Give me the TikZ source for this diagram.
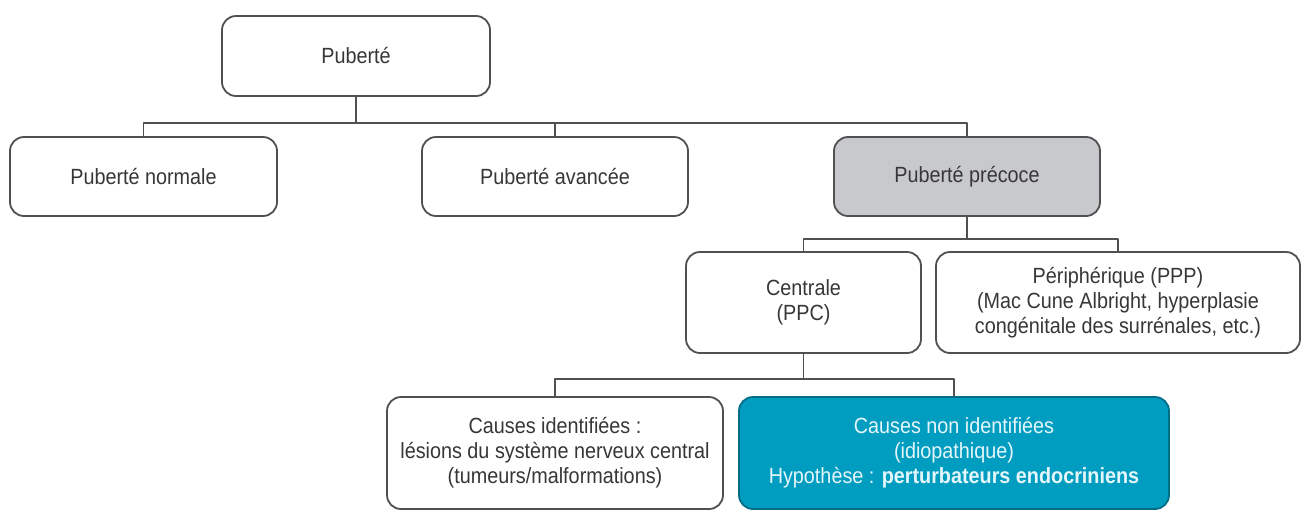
\documentclass[tikz,border=0pt]{standalone}
\usepackage{fontspec}
\setmainfont{Liberation Sans}[FakeStretch=0.9]
\definecolor{txt}{RGB}{55,55,55}
\definecolor{edge}{RGB}{80,80,80}
\definecolor{greyfill}{RGB}{200,201,204}
\definecolor{teal}{RGB}{0,157,192}
\definecolor{pale}{RGB}{228,246,250}
\begin{document}
\begin{tikzpicture}[x=1pt, y=-1pt, line join=round, line cap=round,
		box/.style={draw=edge, line width=1.8pt, rounded corners=14pt, fill=white, text=txt,
			align=center, inner sep=0pt, font=\fontsize{22}{25}\selectfont},
		greybox/.style={box, fill=greyfill},
		tealbox/.style={box, draw=teal!70!black, fill=teal, text=pale},
		link/.style={draw=edge, line width=1.8pt}]
	\useasboundingbox (0,0) rectangle (1301,512);
	% first level
	\node[box, minimum width=268pt, minimum height=80pt] (pub) at (356,56) {Puberté};
	\node[box, minimum width=267pt, minimum height=79pt] (norm) at (143.5,176.5) {Puberté normale};
	\node[box, minimum width=266pt, minimum height=79pt] (avan) at (555,176.5) {Puberté avancée};
	\node[greybox, minimum width=266pt, minimum height=79pt] (prec) at (967,176.5) {Puberté précoce};
	% second level
	\node[box, minimum width=235pt, minimum height=101pt] (cent) at (803.5,302.5) {Centrale\\(PPC)};
	\node[box, minimum width=364pt, minimum height=101pt] (peri) at (1118,302.5)
		{Périphérique (PPP)\\(Mac Cune Albright, hyperplasie\\congénitale des surrénales, etc.)};
	% third level
	\node[box, minimum width=336pt, minimum height=112pt] (cid) at (555,453)
		{Causes identifiées :\\lésions du système nerveux central\\(tumeurs/malformations)};
	\node[tealbox, minimum width=430pt, minimum height=112pt] (cnid) at (954,453)
		{Causes non identifiées\\(idiopathique)\\Hypothèse : \textbf{perturbateurs endocriniens}};
	% connectors
	\path (pub.south) ++(0,26) coordinate (b1);
	\path (prec.south) ++(0,22) coordinate (b2);
	\path (cent.south) ++(0,25) coordinate (b3);
	\draw[link] (pub.south) -- (b1);
	\draw[link] (norm.north) |- (b1) -| (prec.north);
	\draw[link] (avan.north) -- (avan.north |- b1);
	\draw[link] (prec.south) -- (b2);
	\draw[link] (cent.north) |- (b2) -| (peri.north);
	\draw[link] (cent.south) -- (b3);
	\draw[link] (cid.north) |- (b3) -| (cnid.north);
\end{tikzpicture}
\end{document}
